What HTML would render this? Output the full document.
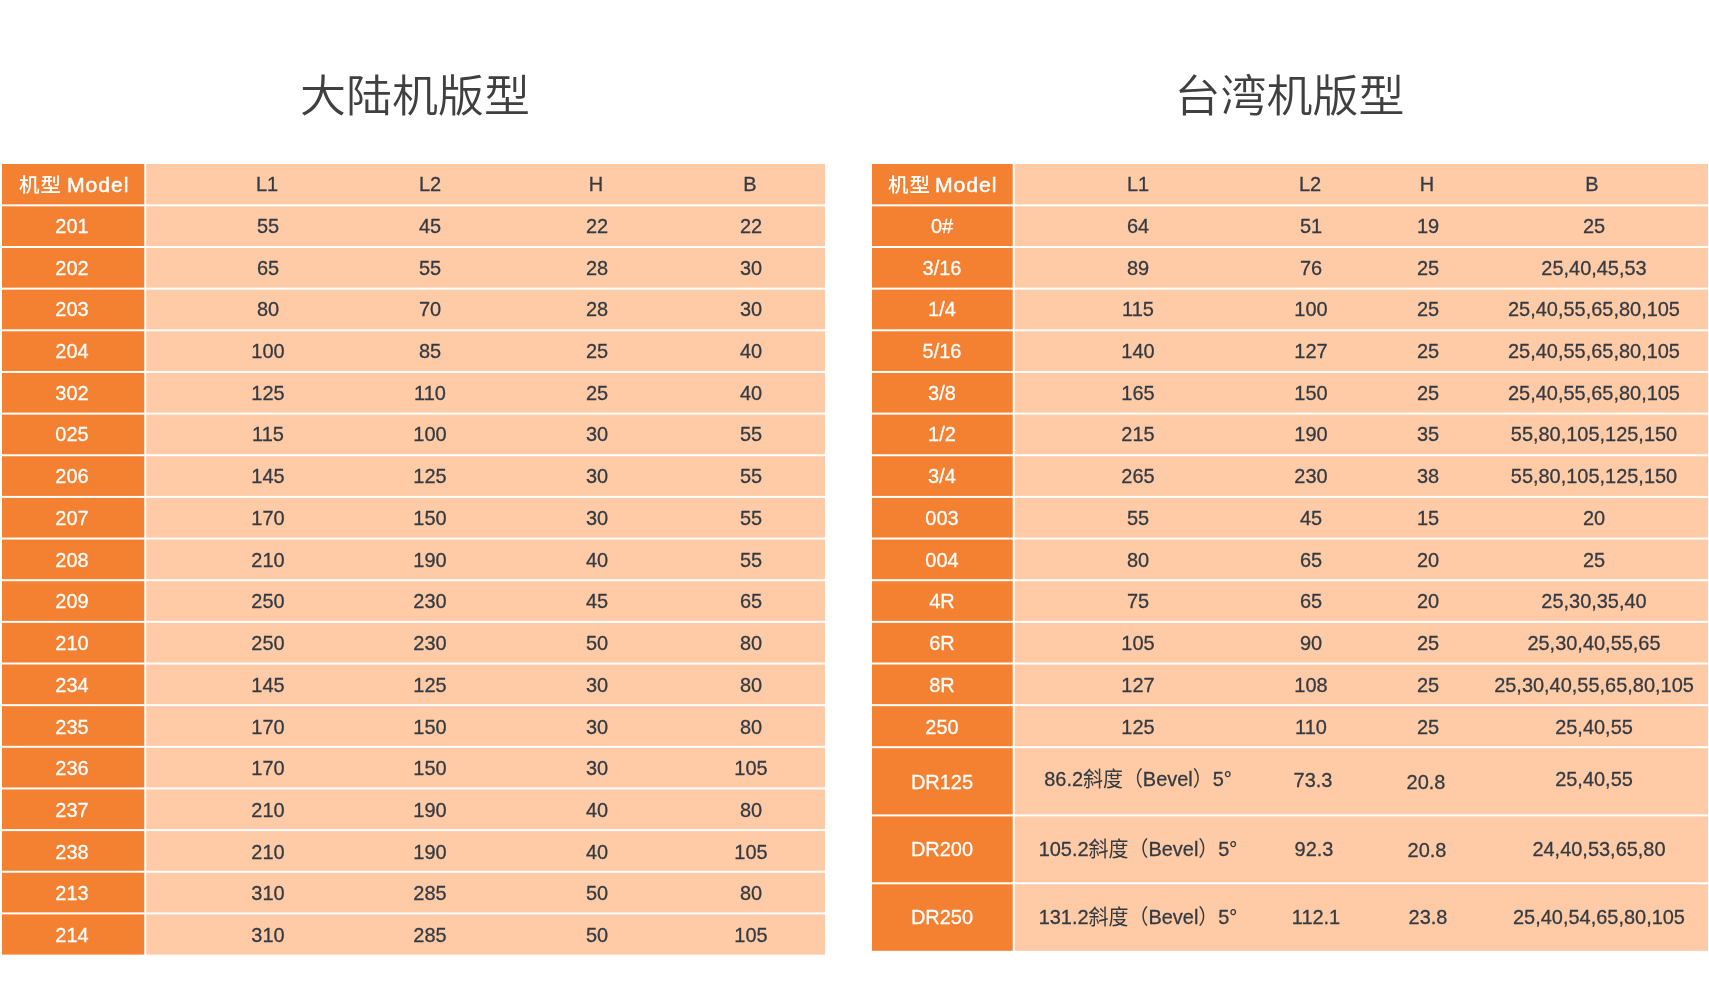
<!DOCTYPE html>
<html lang="zh-CN">
<head>
<meta charset="utf-8">
<title>机版型</title>
<style>
html,body{margin:0;padding:0;background:#fff;}
body{width:1709px;height:981px;position:relative;overflow:hidden;font-family:"Liberation Sans","Noto Sans CJK SC",sans-serif;color:#333a42;}
svg.bg{position:absolute;left:0;top:0;}
#txt{position:absolute;left:0;top:0;width:1709px;height:981px;will-change:transform;}
.t{position:absolute;top:63.5px;width:400px;text-align:center;font-size:46px;line-height:64px;color:#404040;font-weight:350;margin:0;transform:scaleY(0.97);transform-origin:50% 50%;}
.c{position:absolute;width:300px;height:40px;line-height:40px;text-align:center;font-size:21px;white-space:nowrap;transform:scaleX(0.95);-webkit-text-stroke:0.3px currentColor;}
.h{font-size:20px;transform:none;-webkit-text-stroke:0;margin-top:1.4px;}
.hk{display:inline-block;font-weight:500;font-size:19.5px;letter-spacing:1px;transform:scaleX(1.05);transform-origin:100% 50%;}
.hm{display:inline-block;-webkit-text-stroke:0.45px #fff;letter-spacing:0.9px;transform:scaleX(1.06);transform-origin:0 50%;margin-left:-1.1px;}
.m{color:#fff;}
.k{-webkit-text-stroke:0;}
</style>
</head>
<body>
<svg class="bg" width="1709" height="981" viewBox="0 0 1709 981">
<rect x="2" y="164.00" width="142.25" height="40.35" fill="#f48132"/>
<rect x="146.25" y="164.00" width="678.75" height="40.35" fill="#ffcba6"/>
<rect x="2" y="206.35" width="142.25" height="39.65" fill="#f48132"/>
<rect x="146.25" y="206.35" width="678.75" height="39.65" fill="#ffcba6"/>
<rect x="2" y="248.00" width="142.25" height="39.65" fill="#f48132"/>
<rect x="146.25" y="248.00" width="678.75" height="39.65" fill="#ffcba6"/>
<rect x="2" y="289.65" width="142.25" height="39.65" fill="#f48132"/>
<rect x="146.25" y="289.65" width="678.75" height="39.65" fill="#ffcba6"/>
<rect x="2" y="331.30" width="142.25" height="39.65" fill="#f48132"/>
<rect x="146.25" y="331.30" width="678.75" height="39.65" fill="#ffcba6"/>
<rect x="2" y="372.95" width="142.25" height="39.65" fill="#f48132"/>
<rect x="146.25" y="372.95" width="678.75" height="39.65" fill="#ffcba6"/>
<rect x="2" y="414.60" width="142.25" height="39.65" fill="#f48132"/>
<rect x="146.25" y="414.60" width="678.75" height="39.65" fill="#ffcba6"/>
<rect x="2" y="456.25" width="142.25" height="39.65" fill="#f48132"/>
<rect x="146.25" y="456.25" width="678.75" height="39.65" fill="#ffcba6"/>
<rect x="2" y="497.90" width="142.25" height="39.65" fill="#f48132"/>
<rect x="146.25" y="497.90" width="678.75" height="39.65" fill="#ffcba6"/>
<rect x="2" y="539.55" width="142.25" height="39.65" fill="#f48132"/>
<rect x="146.25" y="539.55" width="678.75" height="39.65" fill="#ffcba6"/>
<rect x="2" y="581.20" width="142.25" height="39.65" fill="#f48132"/>
<rect x="146.25" y="581.20" width="678.75" height="39.65" fill="#ffcba6"/>
<rect x="2" y="622.85" width="142.25" height="39.65" fill="#f48132"/>
<rect x="146.25" y="622.85" width="678.75" height="39.65" fill="#ffcba6"/>
<rect x="2" y="664.50" width="142.25" height="39.65" fill="#f48132"/>
<rect x="146.25" y="664.50" width="678.75" height="39.65" fill="#ffcba6"/>
<rect x="2" y="706.15" width="142.25" height="39.65" fill="#f48132"/>
<rect x="146.25" y="706.15" width="678.75" height="39.65" fill="#ffcba6"/>
<rect x="2" y="747.80" width="142.25" height="39.65" fill="#f48132"/>
<rect x="146.25" y="747.80" width="678.75" height="39.65" fill="#ffcba6"/>
<rect x="2" y="789.45" width="142.25" height="39.65" fill="#f48132"/>
<rect x="146.25" y="789.45" width="678.75" height="39.65" fill="#ffcba6"/>
<rect x="2" y="831.10" width="142.25" height="39.65" fill="#f48132"/>
<rect x="146.25" y="831.10" width="678.75" height="39.65" fill="#ffcba6"/>
<rect x="2" y="872.75" width="142.25" height="39.65" fill="#f48132"/>
<rect x="146.25" y="872.75" width="678.75" height="39.65" fill="#ffcba6"/>
<rect x="2" y="914.40" width="142.25" height="40.20" fill="#f48132"/>
<rect x="146.25" y="914.40" width="678.75" height="40.20" fill="#ffcba6"/>
<rect x="872" y="164.00" width="140.70" height="40.35" fill="#f48132"/>
<rect x="1014.70" y="164.00" width="693.30" height="40.35" fill="#ffcba6"/>
<rect x="872" y="206.35" width="140.70" height="39.65" fill="#f48132"/>
<rect x="1014.70" y="206.35" width="693.30" height="39.65" fill="#ffcba6"/>
<rect x="872" y="248.00" width="140.70" height="39.65" fill="#f48132"/>
<rect x="1014.70" y="248.00" width="693.30" height="39.65" fill="#ffcba6"/>
<rect x="872" y="289.65" width="140.70" height="39.65" fill="#f48132"/>
<rect x="1014.70" y="289.65" width="693.30" height="39.65" fill="#ffcba6"/>
<rect x="872" y="331.30" width="140.70" height="39.65" fill="#f48132"/>
<rect x="1014.70" y="331.30" width="693.30" height="39.65" fill="#ffcba6"/>
<rect x="872" y="372.95" width="140.70" height="39.65" fill="#f48132"/>
<rect x="1014.70" y="372.95" width="693.30" height="39.65" fill="#ffcba6"/>
<rect x="872" y="414.60" width="140.70" height="39.65" fill="#f48132"/>
<rect x="1014.70" y="414.60" width="693.30" height="39.65" fill="#ffcba6"/>
<rect x="872" y="456.25" width="140.70" height="39.65" fill="#f48132"/>
<rect x="1014.70" y="456.25" width="693.30" height="39.65" fill="#ffcba6"/>
<rect x="872" y="497.90" width="140.70" height="39.65" fill="#f48132"/>
<rect x="1014.70" y="497.90" width="693.30" height="39.65" fill="#ffcba6"/>
<rect x="872" y="539.55" width="140.70" height="39.65" fill="#f48132"/>
<rect x="1014.70" y="539.55" width="693.30" height="39.65" fill="#ffcba6"/>
<rect x="872" y="581.20" width="140.70" height="39.65" fill="#f48132"/>
<rect x="1014.70" y="581.20" width="693.30" height="39.65" fill="#ffcba6"/>
<rect x="872" y="622.85" width="140.70" height="39.65" fill="#f48132"/>
<rect x="1014.70" y="622.85" width="693.30" height="39.65" fill="#ffcba6"/>
<rect x="872" y="664.50" width="140.70" height="39.65" fill="#f48132"/>
<rect x="1014.70" y="664.50" width="693.30" height="39.65" fill="#ffcba6"/>
<rect x="872" y="706.15" width="140.70" height="40.05" fill="#f48132"/>
<rect x="1014.70" y="706.15" width="693.30" height="40.05" fill="#ffcba6"/>
<rect x="872" y="748.20" width="140.70" height="66.20" fill="#f48132"/>
<rect x="1014.70" y="748.20" width="693.30" height="66.20" fill="#ffcba6"/>
<rect x="872" y="816.40" width="140.70" height="65.90" fill="#f48132"/>
<rect x="1014.70" y="816.40" width="693.30" height="65.90" fill="#ffcba6"/>
<rect x="872" y="884.30" width="140.70" height="66.50" fill="#f48132"/>
<rect x="1014.70" y="884.30" width="693.30" height="66.50" fill="#ffcba6"/>
</svg>
<div id="txt">
<h1 class="t" style="left:215px">大陆机版型</h1>
<h1 class="t" style="left:1089.5px">台湾机版型</h1>
<div class="c m h" style="left:-76.6px;top:163.78px"><span class=hk>机型</span> <span class=hm>Model</span></div>
<div class="c" style="left:116.5px;top:163.78px">L1</div>
<div class="c" style="left:280.0px;top:163.78px">L2</div>
<div class="c" style="left:445.5px;top:163.78px">H</div>
<div class="c" style="left:600.0px;top:163.78px">B</div>
<div class="c m" style="left:-78.0px;top:205.85px">201</div>
<div class="c" style="left:117.7px;top:205.85px">55</div>
<div class="c" style="left:280.0px;top:205.85px">45</div>
<div class="c" style="left:447.0px;top:205.85px">22</div>
<div class="c" style="left:601.0px;top:205.85px">22</div>
<div class="c m" style="left:-78.0px;top:247.57px">202</div>
<div class="c" style="left:117.7px;top:247.57px">65</div>
<div class="c" style="left:280.0px;top:247.57px">55</div>
<div class="c" style="left:447.0px;top:247.57px">28</div>
<div class="c" style="left:601.0px;top:247.57px">30</div>
<div class="c m" style="left:-78.0px;top:289.30px">203</div>
<div class="c" style="left:117.7px;top:289.30px">80</div>
<div class="c" style="left:280.0px;top:289.30px">70</div>
<div class="c" style="left:447.0px;top:289.30px">28</div>
<div class="c" style="left:601.0px;top:289.30px">30</div>
<div class="c m" style="left:-78.0px;top:331.02px">204</div>
<div class="c" style="left:117.7px;top:331.02px">100</div>
<div class="c" style="left:280.0px;top:331.02px">85</div>
<div class="c" style="left:447.0px;top:331.02px">25</div>
<div class="c" style="left:601.0px;top:331.02px">40</div>
<div class="c m" style="left:-78.0px;top:372.75px">302</div>
<div class="c" style="left:117.7px;top:372.75px">125</div>
<div class="c" style="left:280.0px;top:372.75px">110</div>
<div class="c" style="left:447.0px;top:372.75px">25</div>
<div class="c" style="left:601.0px;top:372.75px">40</div>
<div class="c m" style="left:-78.0px;top:414.47px">025</div>
<div class="c" style="left:117.7px;top:414.47px">115</div>
<div class="c" style="left:280.0px;top:414.47px">100</div>
<div class="c" style="left:447.0px;top:414.47px">30</div>
<div class="c" style="left:601.0px;top:414.47px">55</div>
<div class="c m" style="left:-78.0px;top:456.20px">206</div>
<div class="c" style="left:117.7px;top:456.20px">145</div>
<div class="c" style="left:280.0px;top:456.20px">125</div>
<div class="c" style="left:447.0px;top:456.20px">30</div>
<div class="c" style="left:601.0px;top:456.20px">55</div>
<div class="c m" style="left:-78.0px;top:497.92px">207</div>
<div class="c" style="left:117.7px;top:497.92px">170</div>
<div class="c" style="left:280.0px;top:497.92px">150</div>
<div class="c" style="left:447.0px;top:497.92px">30</div>
<div class="c" style="left:601.0px;top:497.92px">55</div>
<div class="c m" style="left:-78.0px;top:539.65px">208</div>
<div class="c" style="left:117.7px;top:539.65px">210</div>
<div class="c" style="left:280.0px;top:539.65px">190</div>
<div class="c" style="left:447.0px;top:539.65px">40</div>
<div class="c" style="left:601.0px;top:539.65px">55</div>
<div class="c m" style="left:-78.0px;top:581.38px">209</div>
<div class="c" style="left:117.7px;top:581.38px">250</div>
<div class="c" style="left:280.0px;top:581.38px">230</div>
<div class="c" style="left:447.0px;top:581.38px">45</div>
<div class="c" style="left:601.0px;top:581.38px">65</div>
<div class="c m" style="left:-78.0px;top:623.10px">210</div>
<div class="c" style="left:117.7px;top:623.10px">250</div>
<div class="c" style="left:280.0px;top:623.10px">230</div>
<div class="c" style="left:447.0px;top:623.10px">50</div>
<div class="c" style="left:601.0px;top:623.10px">80</div>
<div class="c m" style="left:-78.0px;top:664.83px">234</div>
<div class="c" style="left:117.7px;top:664.83px">145</div>
<div class="c" style="left:280.0px;top:664.83px">125</div>
<div class="c" style="left:447.0px;top:664.83px">30</div>
<div class="c" style="left:601.0px;top:664.83px">80</div>
<div class="c m" style="left:-78.0px;top:706.55px">235</div>
<div class="c" style="left:117.7px;top:706.55px">170</div>
<div class="c" style="left:280.0px;top:706.55px">150</div>
<div class="c" style="left:447.0px;top:706.55px">30</div>
<div class="c" style="left:601.0px;top:706.55px">80</div>
<div class="c m" style="left:-78.0px;top:748.27px">236</div>
<div class="c" style="left:117.7px;top:748.27px">170</div>
<div class="c" style="left:280.0px;top:748.27px">150</div>
<div class="c" style="left:447.0px;top:748.27px">30</div>
<div class="c" style="left:601.0px;top:748.27px">105</div>
<div class="c m" style="left:-78.0px;top:790.00px">237</div>
<div class="c" style="left:117.7px;top:790.00px">210</div>
<div class="c" style="left:280.0px;top:790.00px">190</div>
<div class="c" style="left:447.0px;top:790.00px">40</div>
<div class="c" style="left:601.0px;top:790.00px">80</div>
<div class="c m" style="left:-78.0px;top:831.72px">238</div>
<div class="c" style="left:117.7px;top:831.72px">210</div>
<div class="c" style="left:280.0px;top:831.72px">190</div>
<div class="c" style="left:447.0px;top:831.72px">40</div>
<div class="c" style="left:601.0px;top:831.72px">105</div>
<div class="c m" style="left:-78.0px;top:873.45px">213</div>
<div class="c" style="left:117.7px;top:873.45px">310</div>
<div class="c" style="left:280.0px;top:873.45px">285</div>
<div class="c" style="left:447.0px;top:873.45px">50</div>
<div class="c" style="left:601.0px;top:873.45px">80</div>
<div class="c m" style="left:-78.0px;top:915.45px">214</div>
<div class="c" style="left:117.7px;top:915.45px">310</div>
<div class="c" style="left:280.0px;top:915.45px">285</div>
<div class="c" style="left:447.0px;top:915.45px">50</div>
<div class="c" style="left:601.0px;top:915.45px">105</div>
<div class="c m h" style="left:792.0px;top:163.78px"><span class=hk>机型</span> <span class=hm>Model</span></div>
<div class="c" style="left:987.7px;top:163.78px">L1</div>
<div class="c" style="left:1159.6px;top:163.78px">L2</div>
<div class="c" style="left:1276.8px;top:163.78px">H</div>
<div class="c" style="left:1442.2px;top:163.78px">B</div>
<div class="c m" style="left:791.5px;top:205.85px">0#</div>
<div class="c" style="left:987.5px;top:205.85px">64</div>
<div class="c" style="left:1160.8px;top:205.85px">51</div>
<div class="c" style="left:1277.5px;top:205.85px">19</div>
<div class="c" style="left:1443.5px;top:205.85px">25</div>
<div class="c m" style="left:791.5px;top:247.57px">3/16</div>
<div class="c" style="left:987.5px;top:247.57px">89</div>
<div class="c" style="left:1160.8px;top:247.57px">76</div>
<div class="c" style="left:1277.5px;top:247.57px">25</div>
<div class="c" style="left:1443.5px;top:247.57px">25,40,45,53</div>
<div class="c m" style="left:791.5px;top:289.30px">1/4</div>
<div class="c" style="left:987.5px;top:289.30px">115</div>
<div class="c" style="left:1160.8px;top:289.30px">100</div>
<div class="c" style="left:1277.5px;top:289.30px">25</div>
<div class="c" style="left:1443.5px;top:289.30px">25,40,55,65,80,105</div>
<div class="c m" style="left:791.5px;top:331.02px">5/16</div>
<div class="c" style="left:987.5px;top:331.02px">140</div>
<div class="c" style="left:1160.8px;top:331.02px">127</div>
<div class="c" style="left:1277.5px;top:331.02px">25</div>
<div class="c" style="left:1443.5px;top:331.02px">25,40,55,65,80,105</div>
<div class="c m" style="left:791.5px;top:372.75px">3/8</div>
<div class="c" style="left:987.5px;top:372.75px">165</div>
<div class="c" style="left:1160.8px;top:372.75px">150</div>
<div class="c" style="left:1277.5px;top:372.75px">25</div>
<div class="c" style="left:1443.5px;top:372.75px">25,40,55,65,80,105</div>
<div class="c m" style="left:791.5px;top:414.47px">1/2</div>
<div class="c" style="left:987.5px;top:414.47px">215</div>
<div class="c" style="left:1160.8px;top:414.47px">190</div>
<div class="c" style="left:1277.5px;top:414.47px">35</div>
<div class="c" style="left:1443.5px;top:414.47px">55,80,105,125,150</div>
<div class="c m" style="left:791.5px;top:456.20px">3/4</div>
<div class="c" style="left:987.5px;top:456.20px">265</div>
<div class="c" style="left:1160.8px;top:456.20px">230</div>
<div class="c" style="left:1277.5px;top:456.20px">38</div>
<div class="c" style="left:1443.5px;top:456.20px">55,80,105,125,150</div>
<div class="c m" style="left:791.5px;top:497.92px">003</div>
<div class="c" style="left:987.5px;top:497.92px">55</div>
<div class="c" style="left:1160.8px;top:497.92px">45</div>
<div class="c" style="left:1277.5px;top:497.92px">15</div>
<div class="c" style="left:1443.5px;top:497.92px">20</div>
<div class="c m" style="left:791.5px;top:539.65px">004</div>
<div class="c" style="left:987.5px;top:539.65px">80</div>
<div class="c" style="left:1160.8px;top:539.65px">65</div>
<div class="c" style="left:1277.5px;top:539.65px">20</div>
<div class="c" style="left:1443.5px;top:539.65px">25</div>
<div class="c m" style="left:791.5px;top:581.38px">4R</div>
<div class="c" style="left:987.5px;top:581.38px">75</div>
<div class="c" style="left:1160.8px;top:581.38px">65</div>
<div class="c" style="left:1277.5px;top:581.38px">20</div>
<div class="c" style="left:1443.5px;top:581.38px">25,30,35,40</div>
<div class="c m" style="left:791.5px;top:623.10px">6R</div>
<div class="c" style="left:987.5px;top:623.10px">105</div>
<div class="c" style="left:1160.8px;top:623.10px">90</div>
<div class="c" style="left:1277.5px;top:623.10px">25</div>
<div class="c" style="left:1443.5px;top:623.10px">25,30,40,55,65</div>
<div class="c m" style="left:791.5px;top:664.83px">8R</div>
<div class="c" style="left:987.5px;top:664.83px">127</div>
<div class="c" style="left:1160.8px;top:664.83px">108</div>
<div class="c" style="left:1277.5px;top:664.83px">25</div>
<div class="c" style="left:1443.5px;top:664.83px">25,30,40,55,65,80,105</div>
<div class="c m" style="left:791.5px;top:706.75px">250</div>
<div class="c" style="left:987.5px;top:706.75px">125</div>
<div class="c" style="left:1160.8px;top:706.75px">110</div>
<div class="c" style="left:1277.5px;top:706.75px">25</div>
<div class="c" style="left:1443.5px;top:706.75px">25,40,55</div>
<div class="c m" style="left:791.5px;top:761.90px">DR125</div>
<div class="c" style="left:987.5px;top:759.20px">86.2<span class=k>斜度（</span>Bevel<span class=k>）</span>5°</div>
<div class="c" style="left:1163.4px;top:759.90px">73.3</div>
<div class="c" style="left:1276.1px;top:761.90px">20.8</div>
<div class="c" style="left:1444.4px;top:758.80px">25,40,55</div>
<div class="c m" style="left:791.5px;top:828.95px">DR200</div>
<div class="c" style="left:987.5px;top:828.95px">105.2<span class=k>斜度（</span>Bevel<span class=k>）</span>5°</div>
<div class="c" style="left:1163.7px;top:828.95px">92.3</div>
<div class="c" style="left:1277.2px;top:829.95px">20.8</div>
<div class="c" style="left:1448.9px;top:828.95px">24,40,53,65,80</div>
<div class="c m" style="left:791.5px;top:896.55px">DR250</div>
<div class="c" style="left:987.5px;top:896.55px">131.2<span class=k>斜度（</span>Bevel<span class=k>）</span>5°</div>
<div class="c" style="left:1166.0px;top:896.55px">112.1</div>
<div class="c" style="left:1277.5px;top:896.55px">23.8</div>
<div class="c" style="left:1448.9px;top:896.55px">25,40,54,65,80,105</div>
</div>
</body>
</html>
